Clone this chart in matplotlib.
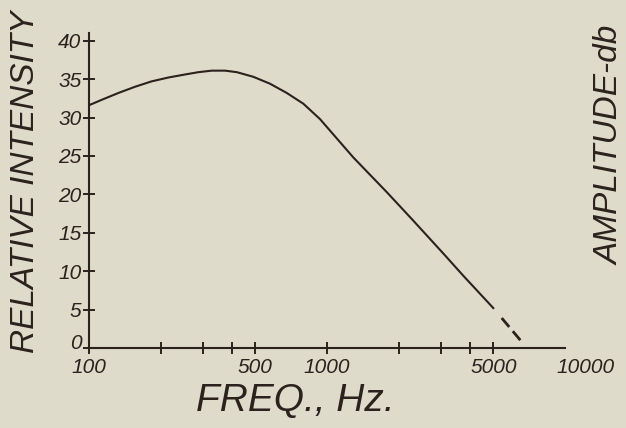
import matplotlib
matplotlib.use("Agg")
import matplotlib.pyplot as plt
from matplotlib.ticker import FixedLocator, NullFormatter
from matplotlib.transforms import ScaledTranslation

# curve (Hz, relative intensity)
freq = [100, 113, 133, 156, 183, 215, 253, 288, 328, 373, 418, 490, 576, 677,
        795, 934, 1029, 1290, 1781, 2269, 3081, 3739, 4996]
inten = [31.6, 32.3, 33.2, 34.0, 34.7, 35.2, 35.6, 35.9, 36.1, 36.1, 35.9, 35.3,
         34.4, 33.2, 31.8, 29.8, 28.3, 24.8, 20.3, 16.8, 12.3, 9.4, 5.2]
# dashed extrapolation
freq_ext = [5420, 6580]
inten_ext = [3.9, 0.8]

xmajor = [100, 500, 1000, 5000]
xlabels = ['100', '500', '1000', '5000']
xminor = [200, 300, 400, 2000, 3000, 4000]
yticks = [0, 5, 10, 15, 20, 25, 30, 35, 40]

bg = '#dedbcb'
ink = '#2b211d'
fnt = ['Liberation Sans', 'DejaVu Sans']

fig = plt.figure(figsize=(6.26, 4.28), dpi=100, facecolor=bg)
ax = fig.add_axes([0.1422, 0.1869, 0.7604, 0.736], facecolor=bg)

ax.plot(freq, inten, color=ink, lw=1.5, solid_joinstyle='round')
ax.plot(freq_ext, inten_ext, color=ink, lw=2, dashes=(4.2, 2))

ax.set_xscale('log')
ax.set_xlim(100, 10000)
ax.set_ylim(0, 41)

ax.xaxis.set_major_locator(FixedLocator(xmajor))
ax.set_xticklabels(xlabels)
ax.xaxis.set_minor_locator(FixedLocator(xminor))
ax.xaxis.set_minor_formatter(NullFormatter())
ax.set_yticks(yticks)

for s in ['top', 'right']:
    ax.spines[s].set_visible(False)
for s in ['left', 'bottom']:
    ax.spines[s].set_color(ink)
    ax.spines[s].set_linewidth(1.5)

ax.tick_params(axis='both', which='both', direction='inout', length=9, width=1.4,
               color=ink, labelcolor=ink, labelsize=15)
ax.tick_params(axis='x', pad=3)
ax.tick_params(axis='y', pad=1)
for lab in ax.get_xticklabels() + ax.get_yticklabels():
    lab.set_family(fnt)
    lab.set_style('italic')

# the "0" sits a little above the corner
zero = ax.get_yticklabels()[0]
zero.set_transform(zero.get_transform() + ScaledTranslation(0, 5 / 72, fig.dpi_scale_trans))

# 10000 label sits a bit right of the axis end
ax.annotate('10000', xy=(10000, 0), xycoords='data', xytext=(15, -7),
            textcoords='offset points', ha='center', va='top', fontsize=15,
            family=fnt, style='italic', color=ink)

ax.set_xlabel('FREQ., Hz.', fontsize=28, family=fnt, style='italic', color=ink)
ax.xaxis.set_label_coords(0.433, -0.11)
fig.text(0.04, 0.575, 'RELATIVE INTENSITY', rotation=90, fontsize=24, family=fnt,
         style='italic', color=ink, ha='center', va='center')
fig.text(0.975, 0.66, 'AMPLITUDE-db', rotation=90, fontsize=24, family=fnt,
         style='italic', color=ink, ha='center', va='center')

fig.savefig('out.png', dpi=100, facecolor=bg)
